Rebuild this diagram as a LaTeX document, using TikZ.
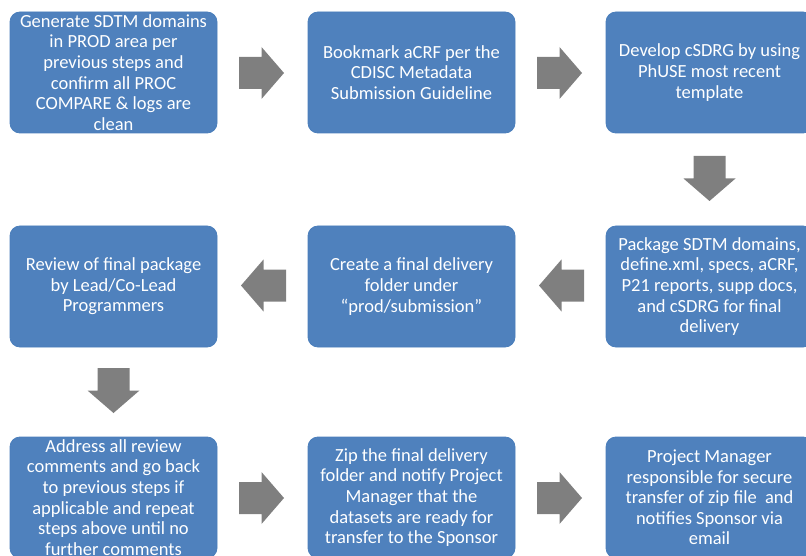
\documentclass[tikz,border=0pt]{standalone}
\usepackage{fontspec}
\setmainfont{Carlito}
\usetikzlibrary{calc}
\definecolor{boxblue}{HTML}{4F81BD}
\definecolor{boxedge}{HTML}{4A7EBB}
\definecolor{arrowgray}{HTML}{7F7F7F}
\tikzset{
  stepbox/.style={draw=boxedge, line width=0.8pt, fill=boxblue, rounded corners=10pt,
    minimum width=207pt, minimum height=121pt, inner sep=0pt, align=center,
    text=white, font=\fontsize{18.5pt}{20.6pt}\selectfont},
  blockarrow/.pic={\fill[arrowgray] (-22.5,-16) -- (0,-16) -- (0,-26) -- (22.5,0) -- (0,26) -- (0,16) -- (-22.5,16) -- cycle;}
}
\begin{document}
\begin{tikzpicture}[x=1pt,y=-1pt]
\useasboundingbox (0,0) rectangle (806,556);
\clip (0,0) rectangle (806,556);
\node[stepbox] (b1) at (113.5,72.5) {Generate SDTM domains\\in PROD area per\\previous steps and\\confirm all PROC\\COMPARE \& logs are\\clean};
\node[stepbox] (b2) at (411.5,72.5) {Bookmark aCRF per the\\CDISC Metadata\\Submission Guideline};
\node[stepbox] (b3) at (709.5,72.5) {Develop cSDRG by using\\PhUSE most recent\\template};
\node[stepbox] (b4) at (113.5,286.5) {Review of final package\\by Lead/Co-Lead\\Programmers};
\node[stepbox] (b5) at (411.5,286.5) {Create a final delivery\\folder under\\“prod/submission”};
\node[stepbox] (b6) at (709.5,286.5) {Package SDTM domains,\\define.xml, specs, aCRF,\\P21 reports, supp docs,\\and cSDRG for final\\delivery};
\node[stepbox] (b7) at (113.5,497.5) {Address all review\\comments and go back\\to previous steps if\\applicable and repeat\\steps above until no\\further comments};
\node[stepbox] (b8) at (411.5,497.5) {Zip the final delivery\\folder and notify Project\\Manager that the\\datasets are ready for\\transfer to the Sponsor};
\node[stepbox] (b9) at (709.5,497.5) {Project Manager\\responsible for secure\\transfer of zip file\ \ and\\notifies Sponsor via\\email};
\pic at ($(b1.east)!0.5!(b2.west)+(-1,0.5)$) {blockarrow};
\pic at ($(b2.east)!0.5!(b3.west)+(-1,0.5)$) {blockarrow};
\pic[rotate=-90] at ($(b3.south)!0.5!(b6.north)+(0,-1)$) {blockarrow};
\pic[rotate=180] at ($(b6.west)!0.5!(b5.east)+(1,-1)$) {blockarrow};
\pic[rotate=180] at ($(b5.west)!0.5!(b4.east)+(1,-1)$) {blockarrow};
\pic[rotate=-90] at ($(b4.south)!0.5!(b7.north)+(0,-1.5)$) {blockarrow};
\pic at ($(b7.east)!0.5!(b8.west)+(-1,0.5)$) {blockarrow};
\pic at ($(b8.east)!0.5!(b9.west)+(-1,0.5)$) {blockarrow};
\end{tikzpicture}
\end{document}
